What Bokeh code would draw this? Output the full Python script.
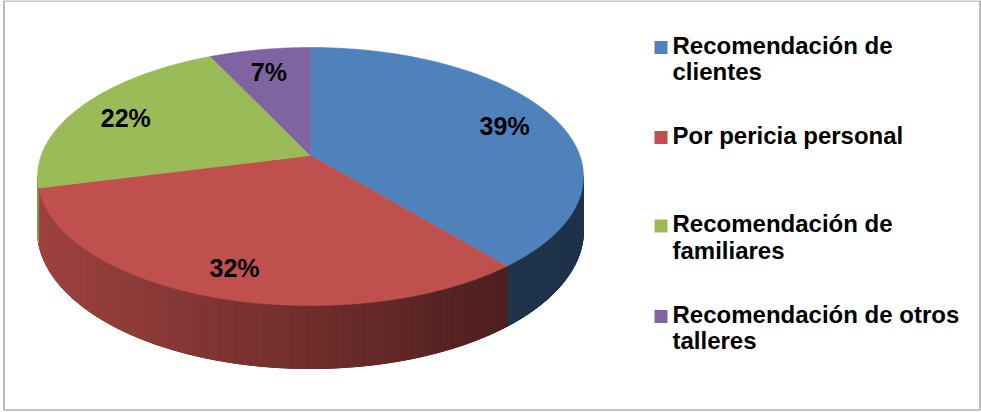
import numpy as np
from bokeh.plotting import figure
from bokeh.models import Range1d, ColumnDataSource
from bokeh.core.properties import value
from bokeh.embed import file_html
from bokeh.resources import INLINE

# ---------------- data ----------------
categories = ["Recomendación de clientes", "Por pericia personal",
              "Recomendación de familiares", "Recomendación de otros talleres"]
legend_lines = [["Recomendación de", "clientes"],
                ["Por pericia personal"],
                ["Recomendación de", "familiares"],
                ["Recomendación de otros", "talleres"]]
shares = [39, 32, 22, 7]
pct_labels = ["39%", "32%", "22%", "7%"]
colors = ["#4F81BD", "#C0504D", "#9BBB59", "#8064A2"]

# ---------------- 3D pie geometry (screen px) ----------------
CX, CY = 310.0, 155.0      # apex of the pie on screen
K = 269.3                  # horizontal scale
KS = 125.6                 # vertical scale (K*sin(elevation))
A = 0.163                  # perspective factor
H0 = 52.7                  # depth of the pie


def proj(phi, r=1.0, z=0.0):
    c = np.cos(phi)
    s = np.sin(phi)
    den = 1 + A * r * c
    return CX + K * r * s / den, CY - (KS * r * c - z) / den


def rgb(hexc):
    h = hexc.lstrip("#")
    return tuple(int(h[i:i + 2], 16) for i in (0, 2, 4))


def shade(hexc, f):
    r, g, b = rgb(hexc)
    return "#%02x%02x%02x" % (int(r * f), int(g * f), int(b * f))


W, H = 981, 412
p = figure(width=W, height=H, output_backend="svg", toolbar_location=None,
           x_range=Range1d(0, W), y_range=Range1d(H, 0),
           min_border=0, x_axis_location=None, y_axis_location=None)
p.xgrid.visible = False
p.ygrid.visible = False
p.background_fill_color = "white"
p.border_fill_color = "white"
p.outline_line_color = None

# chart-area border
p.quad(left=[3.5], right=[979.5], top=[0.5], bottom=[409.5],
       fill_color=None, line_color="#8c8c8c", line_width=1.2)

total = float(sum(shares))
bounds = np.concatenate([[0], np.cumsum(shares)]) / total * 2 * np.pi

# visible side range (silhouette)
phi_lo = np.arccos(-A)
phi_hi = 2 * np.pi - phi_lo
x_left = proj(phi_hi)[0]
x_right_red = proj(bounds[1])[0]


def side_factor(x):
    f = 0.83 - 0.43 * (x - x_left) / (x_right_red - x_left)
    return min(0.85, max(0.40, f))


base_xs, base_ys, base_cols = [], [], []
side_xs, side_ys, side_cols = [], [], []
for i in range(len(shares)):
    a0 = max(bounds[i], phi_lo)
    a1 = min(bounds[i + 1], phi_hi)
    if a1 <= a0:
        continue
    n = max(2, int(np.degrees(a1 - a0)))
    ph = np.linspace(a0, a1, n + 1)
    tx_, ty_ = proj(ph)
    bx_, by_ = proj(ph[::-1], z=H0)
    base_xs.append(list(tx_) + list(bx_))
    base_ys.append(list(ty_) + list(by_))
    base_cols.append(shade(colors[i], side_factor(tx_.mean())))
    for j in range(n):
        t0, t1 = ph[j], ph[j + 1]
        xa, ya = proj(t0)
        xb, yb = proj(t1)
        xc, yc = proj(t1, z=H0)
        xd, yd = proj(t0, z=H0)
        side_xs.append([xa, xb, xc, xd])
        side_ys.append([ya, yb, yc, yd])
        side_cols.append(shade(colors[i], side_factor((xa + xb) / 2)))

p.patches(xs="xs", ys="ys", fill_color="c", line_color="c", line_width=1,
          source=ColumnDataSource(dict(xs=base_xs, ys=base_ys, c=base_cols)))
p.patches(xs="xs", ys="ys", fill_color="c", line_color="c", line_width=1,
          source=ColumnDataSource(dict(xs=side_xs, ys=side_ys, c=side_cols)))

# top faces
top_xs, top_ys = [], []
for i in range(len(shares)):
    ph = np.linspace(bounds[i], bounds[i + 1], 200)
    xs, ys = proj(ph)
    top_xs.append([CX] + list(xs))
    top_ys.append([CY] + list(ys))
p.patches(xs="xs", ys="ys", fill_color="c", line_color="c", line_width=0.6,
          source=ColumnDataSource(dict(xs=top_xs, ys=top_ys, c=colors)))

# percentage labels
mids = (bounds[:-1] + bounds[1:]) / 2
lx, ly = proj(mids, r=0.8)
p.text(x=list(lx), y=list(ly + 3), text=pct_labels, text_align="center",
       text_baseline="middle", text_font=value("Liberation Sans"),
       text_font_style="bold", text_font_size="25px", text_color="black")

# legend
leg_mid = [46, 136, 224.5, 315]
line_gap = 26.7
tx, ty, tt = [], [], []
for i, lines in enumerate(legend_lines):
    for k, ln in enumerate(lines):
        tx.append(672)
        ty.append(leg_mid[i] + k * line_gap - 1.5)
        tt.append(ln)
p.scatter(x=[660.5] * 4, y=[m + 1 for m in leg_mid], marker="square", size=13,
          fill_color=colors, line_color=None)
p.text(x=tx, y=ty, text=tt, text_align="left", text_baseline="middle",
       text_font=value("Liberation Sans"), text_font_style="bold",
       text_font_size="24px", text_color="black")

open("out.html", "w").write(file_html(p, INLINE))
